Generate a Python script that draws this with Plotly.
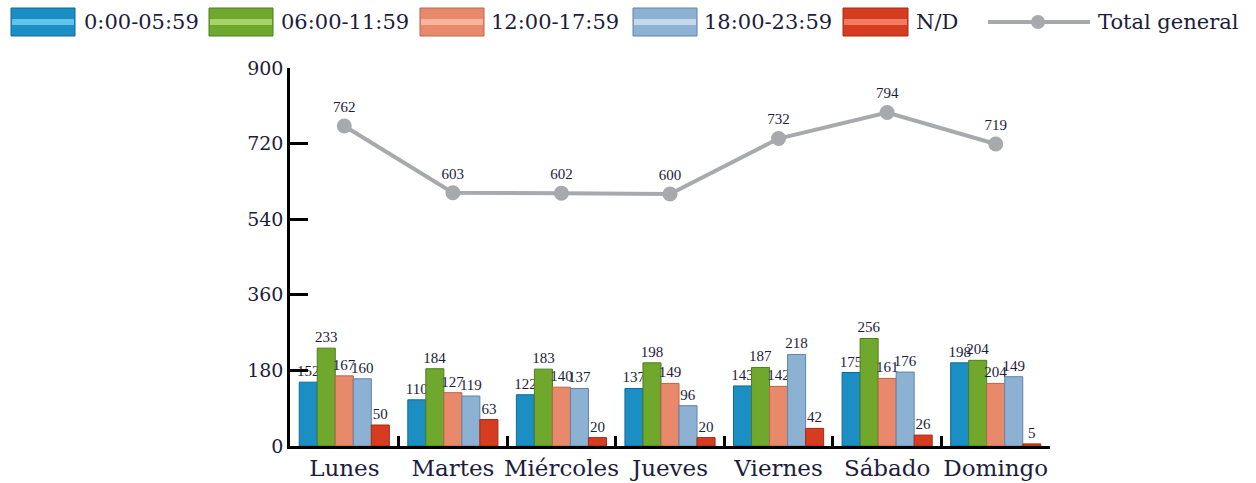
import plotly.graph_objects as go

dias = ["Lunes", "Martes", "Miércoles", "Jueves", "Viernes", "Sábado", "Domingo"]
series_names = ["0:00-05:59", "06:00-11:59", "12:00-17:59", "18:00-23:59", "N/D"]
v_0000 = [152, 110, 122, 137, 143, 175, 198]
v_0600 = [233, 184, 183, 198, 187, 256, 204]
v_1200 = [167, 127, 140, 149, 142, 161, 149]
v_1800 = [160, 119, 137, 96, 218, 176, 165]
v_nd = [50, 63, 20, 20, 42, 26, 5]
lbl_1200 = ["167", "127", "140", "149", "142", "161", "204"]
lbl_1800 = ["160", "119", "137", "96", "218", "176", "149"]
total_name = "Total general"
total_general = [762, 603, 602, 600, 732, 794, 719]
y_ticks = [0, 180, 360, 540, 720, 900]

colors = ["#1b8ec3", "#6fa82c", "#e8896c", "#8db1d3", "#d63c20"]
light = ["#63c3ea", "#a6d46a", "#f9b49e", "#c3d9ee", "#f27a5e"]
edge = ["#0e6a96", "#4f7d1c", "#b8654c", "#5f84a8", "#a82a14"]
line_color = "#a7a9ac"
values = [v_0000, v_0600, v_1200, v_1800, v_nd]
labels = [[str(v) for v in v_0000], [str(v) for v in v_0600], lbl_1200, lbl_1800,
          [str(v) for v in v_nd]]

serif = "DejaVu Serif"
label_font = "Liberation Serif"
ink = "#1c1c3c"

fig = go.Figure()
for name, vals, lbl, c, e in zip(series_names, values, labels, colors, edge):
    fig.add_trace(go.Bar(
        x=dias, y=vals, name=name, text=lbl, textposition="outside",
        constraintext="none",
        textfont=dict(size=15, color=ink, family=label_font),
        marker=dict(color=c, line=dict(color=e, width=1)),
        cliponaxis=False, showlegend=False,
    ))

fig.add_trace(go.Scatter(
    x=dias, y=total_general, name=total_name, mode="lines+markers+text",
    line=dict(color=line_color, width=4),
    marker=dict(color=line_color, size=15),
    text=[str(v) for v in total_general], textposition="top center",
    textfont=dict(size=15, color=ink, family=label_font),
    cliponaxis=False, showlegend=False,
))

# manual legend (paper coordinates derived from pixel layout)
L, T, W, H = 290, 68, 760, 378
def px(x):
    return (x - L) / W
def py(y):
    return (T + H - y) / H

shapes = []
annotations = []
rects = [(11, 75), (209, 273), (420, 484), (633, 697), (843, 908)]
text_x = [82, 279, 489, 702, 914]
for (x0, x1), tx, name, c, lc, e in zip(rects, text_x, series_names, colors, light, edge):
    shapes.append(dict(type="rect", xref="paper", yref="paper",
                       x0=px(x0), x1=px(x1), y0=py(36), y1=py(8),
                       fillcolor=c, line=dict(color=e, width=1)))
    shapes.append(dict(type="rect", xref="paper", yref="paper",
                       x0=px(x0 + 1), x1=px(x1 - 1), y0=py(25), y1=py(19),
                       fillcolor=lc, line=dict(width=0)))
    annotations.append(dict(x=px(tx), y=py(22), xref="paper", yref="paper",
                            text=name, showarrow=False, xanchor="left", yanchor="middle",
                            font=dict(size=21, family=serif, color=ink)))
shapes.append(dict(type="line", xref="paper", yref="paper",
                   x0=px(988), x1=px(1090), y0=py(22), y1=py(22),
                   line=dict(color=line_color, width=4)))
shapes.append(dict(type="circle", xref="paper", yref="paper",
                   x0=px(1031), x1=px(1045), y0=py(29), y1=py(15),
                   fillcolor=line_color, line=dict(width=0)))
annotations.append(dict(x=px(1096), y=py(22), xref="paper", yref="paper",
                        text=total_name, showarrow=False, xanchor="left", yanchor="middle",
                        font=dict(size=21, family=serif, color=ink)))

fig.update_layout(
    width=1256, height=483,
    margin=dict(l=L, r=1256 - L - W, t=T, b=483 - T - H, autoexpand=False),
    paper_bgcolor="white", plot_bgcolor="white",
    barmode="group", bargap=0.17, bargroupgap=0.0,
    font=dict(family=serif, color=ink, size=20),
    showlegend=False,
    shapes=shapes, annotations=annotations,
)
fig.update_xaxes(
    type="category", range=[-0.5, 6.5], tickangle=0,
    showline=True, linecolor="black", linewidth=2.5,
    ticks="inside", tickson="boundaries", ticklen=10, tickwidth=2.5, tickcolor="black",
    tickfont=dict(size=23, family=serif, color=ink),
    showgrid=False, zeroline=False,
)
fig.update_yaxes(
    range=[0, 900], tickvals=y_ticks, ticktext=[str(t) for t in y_ticks],
    showline=True, linecolor="black", linewidth=2.5,
    ticks="inside", ticklen=18, tickwidth=2.5, tickcolor="black",
    tickfont=dict(size=19, family=serif, color=ink),
    showgrid=False, zeroline=False,
)

fig.write_html("out.html", config={"displayModeBar": False},
               post_script="document.body.style.margin='0';")
